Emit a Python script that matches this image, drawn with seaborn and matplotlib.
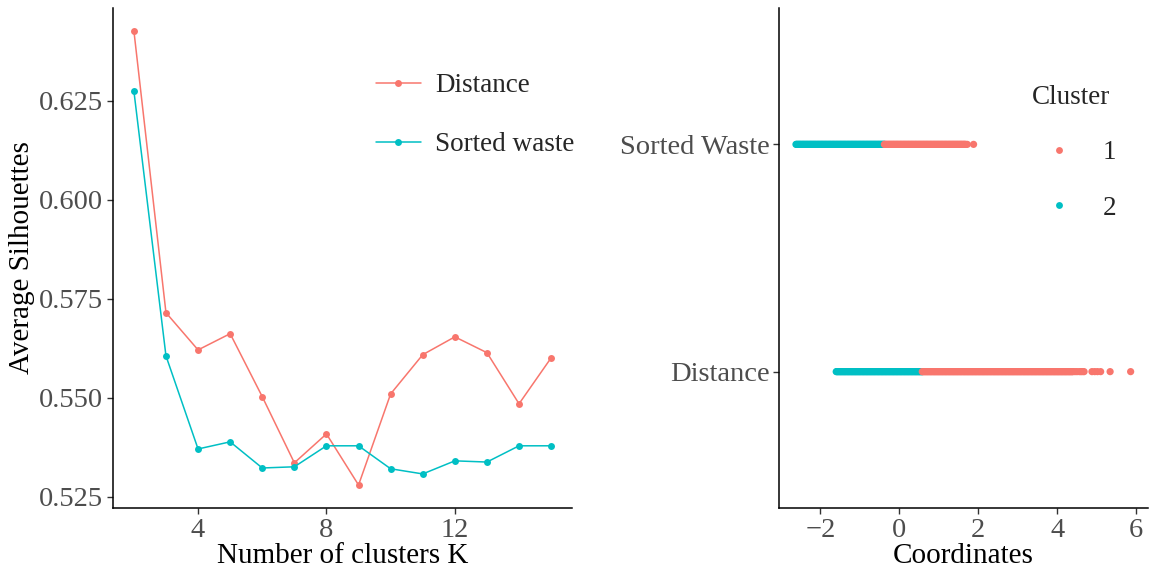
import numpy as np
import pandas as pd
import matplotlib
matplotlib.use("Agg")
import matplotlib.pyplot as plt
import seaborn as sns

# ---------------- data ----------------
k_values = list(range(2, 16))
sil_distance = [0.6427, 0.5715, 0.5621, 0.5662, 0.5503, 0.5336, 0.5409,
                0.5280, 0.5510, 0.5609, 0.5654, 0.5614, 0.5485, 0.5601]
sil_sorted = [0.6275, 0.5606, 0.5371, 0.5389, 0.5323, 0.5326, 0.5379,
              0.5379, 0.5321, 0.5308, 0.5341, 0.5338, 0.5379, 0.5379]
series_names = ["Distance", "Sorted waste"]

variables = ["Sorted Waste", "Distance"]
cluster_labels = ["1", "2"]
# dense bands of coordinates (start, end)
sorted_c2_band = (-2.62, -0.38)
sorted_c1_band = (-0.38, 1.68)
sorted_c1_extra = [1.72, 1.88]
dist_c2_band = (-1.60, 0.58)
dist_c1_band = (0.58, 4.40)
dist_c1_extra = [4.45, 4.50, 4.56, 4.60, 4.64, 4.68, 4.88, 4.95, 5.02,
                 5.10, 5.34, 5.86]
band_step = 0.02

colors = {"1": "#F8766D", "2": "#00BFC4"}
line_colors = ["#F8766D", "#00BFC4"]

# ---------------- build frames ----------------
sil_df = pd.DataFrame({
    "K": k_values * 2,
    "Silhouette": sil_distance + sil_sorted,
    "Series": [series_names[0]] * len(k_values) + [series_names[1]] * len(k_values),
})

def band(lo, hi):
    return list(np.arange(lo, hi + 1e-9, band_step))

rows = []
for v in band(*sorted_c2_band):
    rows.append(("Sorted Waste", v, "2"))
for v in band(*dist_c2_band):
    rows.append(("Distance", v, "2"))
for v in band(*sorted_c1_band) + sorted_c1_extra:
    rows.append(("Sorted Waste", v, "1"))
for v in band(*dist_c1_band) + dist_c1_extra:
    rows.append(("Distance", v, "1"))
coord_df = pd.DataFrame(rows, columns=["Variable", "Coordinate", "Cluster"])

# ---------------- style ----------------
sns.set_style("white")
plt.rcParams["font.family"] = ["Liberation Serif", "DejaVu Serif"]
plt.rcParams["axes.unicode_minus"] = True

W, H = 1155, 572
fig = plt.figure(figsize=(W / 100, H / 100), dpi=100)
ax1 = fig.add_axes([113 / W, (H - 508) / H, (572 - 113) / W, 500 / H])
ax2 = fig.add_axes([779 / W, (H - 508) / H, (1148 - 779) / W, 500 / H])

tick_color = "#4D4D4D"
for ax in (ax1, ax2):
    for s in ("top", "right"):
        ax.spines[s].set_visible(False)
    for s in ("left", "bottom"):
        ax.spines[s].set_color("black")
        ax.spines[s].set_linewidth(1.1)
    ax.tick_params(axis="both", which="major", length=4, width=1.0,
                   color="#333333", labelcolor=tick_color, labelsize=20.5,
                   direction="out", pad=3, left=True, bottom=True)
    ax.grid(False)

# ---------------- left panel ----------------
sns.lineplot(data=sil_df, x="K", y="Silhouette", hue="Series",
             hue_order=series_names, palette=line_colors, marker="o",
             markersize=5, markeredgewidth=0, linewidth=1.1, ax=ax1)
ax1.set_xlim(1.35, 15.65)
ax1.set_ylim(0.5222, 0.6484)
ax1.set_xticks([4, 8, 12])
ax1.set_yticks([0.525, 0.550, 0.575, 0.600, 0.625])
ax1.set_yticklabels(["0.525", "0.550", "0.575", "0.600", "0.625"])
ax1.set_xlabel("Number of clusters K", fontsize=21, color="black", labelpad=0)
ax1.set_ylabel("Average Silhouettes", fontsize=21, color="black", labelpad=3)
leg1 = ax1.legend(loc="upper left", bbox_to_anchor=(0.549, 0.891), frameon=False,
                  fontsize=19.5, handlelength=1.65, handletextpad=0.55,
                  labelspacing=1.25, borderaxespad=0)

# ---------------- right panel ----------------
sns.stripplot(data=coord_df, x="Coordinate", y="Variable", hue="Cluster",
              order=variables, hue_order=cluster_labels, palette=colors,
              jitter=False, size=5.2, linewidth=0, orient="h", ax=ax2)
ax2.set_ylim(1.6, -0.6)
ax2.set_xlim(-3.05, 6.3)
ax2.set_xticks([-2, 0, 2, 4, 6])
ax2.set_xticklabels(["\u22122", "0", "2", "4", "6"])
ax2.set_xlabel("Coordinates", fontsize=21, color="black", labelpad=0)
ax2.set_ylabel("")
leg2 = ax2.legend(title="Cluster", loc="upper left", bbox_to_anchor=(0.656, 0.868),
                  frameon=False, fontsize=19.5, title_fontsize=19.5,
                  handletextpad=0.6, labelspacing=1.12, borderaxespad=0,
                  markerscale=0.95)
leg2._legend_box.align = "left"

fig.savefig("out.png", dpi=100, facecolor="white")
